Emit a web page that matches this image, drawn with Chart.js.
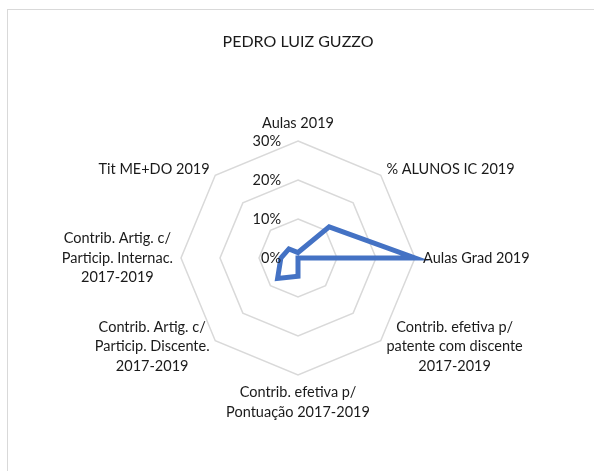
<!DOCTYPE html>
<html>
<head>
<meta charset="utf-8">
<script src="https://cdn.jsdelivr.net/npm/chart.js@4"></script>
<style>
  html, body { margin: 0; padding: 0; background: #fff; }
  #frame { position: absolute; left: 7px; top: 9px; width: 700px; height: 700px; border: 1.5px solid #d9d9d9; }
  #wrap { position: absolute; left: 0; top: 0; width: 594px; height: 471px; }
</style>
</head>
<body>
<div id="frame"></div>
<div id="wrap"><canvas id="radar"></canvas></div>
<script>
// Categories (clockwise from top)
const categories = [
    'Aulas 2019',
    '% ALUNOS IC 2019',
    'Aulas Grad 2019',
    ['Contrib. efetiva p/', 'patente com discente', '2017-2019'],
    ['Contrib. efetiva p/', 'Pontuação 2017-2019'],
    ['Contrib. Artig. c/', 'Particip. Discente.', '2017-2019'],
    ['Contrib. Artig. c/', 'Particip. Internac.', '2017-2019'],
    'Tit ME+DO 2019'
];

// Values in percent
const values = [1.4, 11.3, 30, 0, 4.7, 7.4, 4.4, 3.3];

const tickValues = [0, 10, 20, 30];

const FONT = 'Lato, "Liberation Sans", sans-serif';
const TEXT = '#1a1a1a';

// Tick labels drawn left of the vertical axis and point labels placed
// like Excel does (lines centred inside each label block)
const labelPlugin = {
    id: 'excelLabels',
    afterDraw(chart) {
        const scale = chart.scales.r;
        const ctx = chart.ctx;
        ctx.save();
        ctx.font = '14.5px ' + FONT;
        ctx.fillStyle = TEXT;
        ctx.textAlign = 'right';
        ctx.textBaseline = 'middle';
        tickValues.forEach(v => {
            const d = scale.getDistanceFromCenterForValue(v);
            ctx.fillText(v + '%', scale.xCenter - 17, scale.yCenter - d);
        });

        const lineH = 19.5;
        ctx.textAlign = 'center';
        categories.forEach((label, i) => {
            const lines = Array.isArray(label) ? label : [label];
            const w = Math.max(...lines.map(l => ctx.measureText(l).width));
            const h = lines.length * lineH;
            const p = scale.getPointPosition(i, scale.drawingArea + 8);
            const dx = p.x - scale.xCenter;
            const dy = p.y - scale.yCenter;
            let left, top;
            if (Math.abs(dx) < 1) left = p.x - w / 2;
            else if (dx > 0) left = p.x;
            else left = p.x - w;
            if (Math.abs(dx) < 1 && dy < 0) top = p.y - h;
            else if (Math.abs(dx) < 1 && dy > 0) top = p.y;
            else top = p.y - h / 2;
            lines.forEach((l, k) => {
                ctx.fillText(l, left + w / 2, top + lineH * (k + 0.5));
            });
        });
        ctx.restore();
    }
};

new Chart(document.getElementById('radar'), {
    type: 'radar',
    data: {
        labels: categories,
        datasets: [{
            data: values,
            borderColor: '#4472c4',
            borderWidth: 5,
            fill: false,
            pointRadius: 0,
            pointHoverRadius: 0,
            borderJoinStyle: 'miter'
        }]
    },
    options: {
        responsive: true,
        maintainAspectRatio: false,
        animation: false,
        layout: {
            padding: { left: 181, right: 179, top: 0, bottom: 95.5 }
        },
        plugins: {
            legend: { display: false },
            tooltip: { enabled: false },
            title: {
                display: true,
                text: 'PEDRO LUIZ GUZZO',
                color: TEXT,
                font: { family: FONT, size: 16, weight: 'normal', lineHeight: 1.2 },
                padding: { top: 32.5, bottom: 89.8 }
            }
        },
        scales: {
            r: {
                min: 0,
                max: 30,
                ticks: { stepSize: 10, display: false },
                grid: { color: '#d9d9d9', lineWidth: 1.5 },
                angleLines: { display: false },
                pointLabels: { display: false }
            }
        }
    },
    plugins: [labelPlugin]
});
</script>
</body>
</html>
